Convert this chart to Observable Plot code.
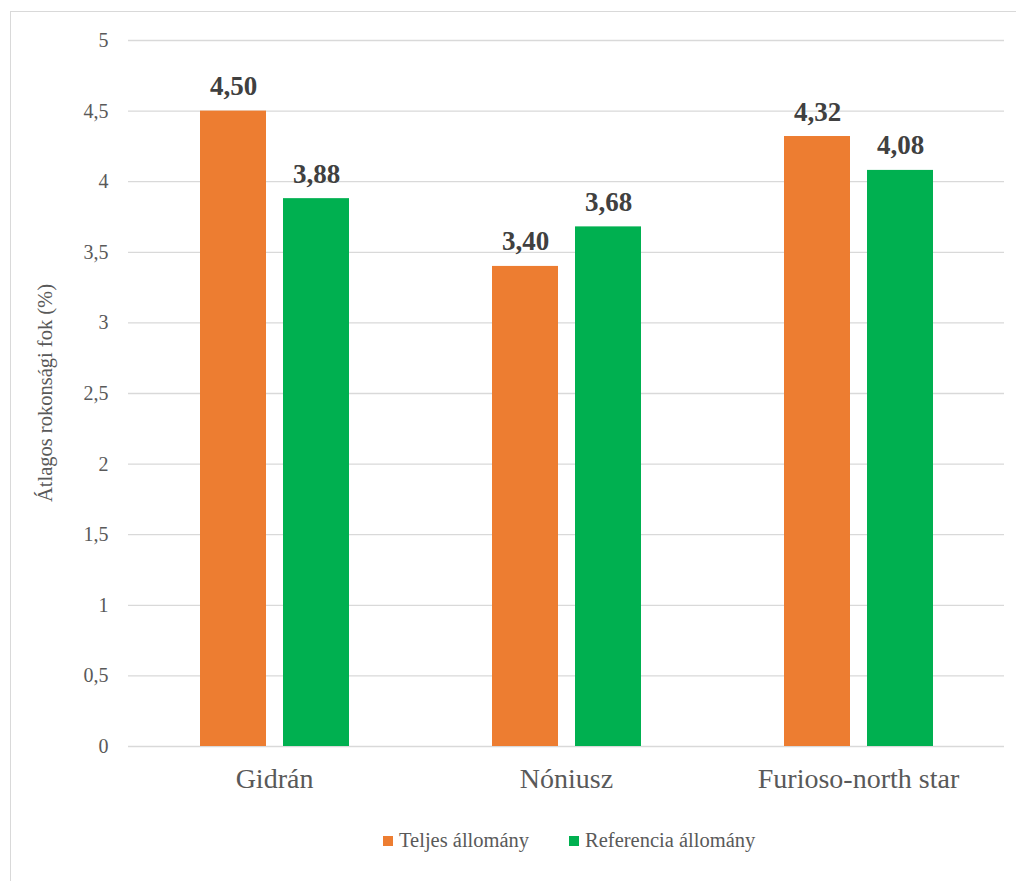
<!DOCTYPE html>
<html>
<head>
<meta charset="utf-8">
<script src="https://cdn.jsdelivr.net/npm/d3@7"></script>
<script src="https://cdn.jsdelivr.net/npm/@observablehq/plot@0.6"></script>
<style>
  html, body { margin: 0; padding: 0; background: #fff; overflow: hidden; }
  body { width: 1016px; height: 881px; position: relative; font-family: "Liberation Serif", Tinos, "Times New Roman", "DejaVu Serif", serif; }
  #frame { position: absolute; left: 10px; top: 11px; width: 1020px; height: 880px; border: 1px solid #d9d9d9; box-sizing: border-box; }
  #chart { position: absolute; left: 0; top: 0; }
  #legend { position: absolute; left: 383px; top: 829px; display: flex; align-items: center; font-size: 20.5px; color: #595959; }
  #legend .item { display: flex; align-items: center; }
  #legend .sw { width: 10px; height: 10px; margin-right: 6px; }
  svg text { font-family: "Liberation Serif", Tinos, "Times New Roman", "DejaVu Serif", serif; }
</style>
</head>
<body>
<div id="frame"></div>
<div id="chart"></div>
<div id="legend"></div>
<script>
const categories = ["Gidrán", "Nóniusz", "Furioso-north star"];
const series = ["Teljes állomány", "Referencia állomány"];
const teljes = [4.50, 3.40, 4.32];
const referencia = [3.88, 3.68, 4.08];
const yTicks = [0, 0.5, 1, 1.5, 2, 2.5, 3, 3.5, 4, 4.5, 5];
const colors = ["#ED7D31", "#00B050"];
const yLabel = "Átlagos rokonsági fok (%)";

const data = [];
categories.forEach((c, i) => {
  data.push({cat: c, s: series[0], v: teljes[i]});
  data.push({cat: c, s: series[1], v: referencia[i]});
});

const comma = (v, d) => (d == null ? String(v) : v.toFixed(d)).replace(".", ",");
const FONT = '"Liberation Serif", Tinos, "Times New Roman", "DejaVu Serif", serif';

const chart = Plot.plot({
  width: 1016,
  height: 810,
  marginTop: 40,
  marginBottom: 64,
  marginLeft: 127,
  marginRight: 11,
  style: {fontFamily: FONT, background: "transparent", overflow: "visible"},
  fx: {domain: categories, padding: 0, label: null},
  x: {domain: series, paddingInner: 0.207, paddingOuter: 0.86, axis: null},
  y: {domain: [0, 5], label: null},
  color: {domain: series, range: colors},
  marks: [
    Plot.gridY(yTicks, {stroke: "#d9d9d9", strokeOpacity: 1, strokeWidth: 1.3}),
    Plot.barY(data, {fx: "cat", x: "s", y: "v", fill: "s"}),
    Plot.text(data, {fx: "cat", x: "s", y: "v", text: d => comma(d.v, 2), lineAnchor: "bottom", dy: -16, fontSize: 27, fontWeight: "bold", fill: "#404040"}),
    Plot.axisY(yTicks, {tickSize: 0, tickPadding: 20, fontSize: 20, fill: "#595959", tickFormat: v => comma(v), label: null}),
    Plot.axisFx({anchor: "bottom", tickSize: 0, tickPadding: 22, fontSize: 28, fill: "#595959", label: null})
  ]
});
document.getElementById("chart").appendChild(chart);

// Y axis title
const svg = d3.select(chart);
svg.append("text")
  .attr("transform", "translate(47,393) rotate(-90)")
  .attr("text-anchor", "middle")
  .attr("dominant-baseline", "middle")
  .attr("font-size", 20.5)
  .attr("fill", "#595959")
  .style("font-family", FONT)
  .text(yLabel);

// Legend
const legend = d3.select("#legend");
series.forEach((s, i) => {
  const item = legend.append("div").attr("class", "item").style("margin-right", i === 0 ? "40px" : "0");
  item.append("div").attr("class", "sw").style("background", colors[i]);
  item.append("span").text(s);
});
</script>
</body>
</html>
